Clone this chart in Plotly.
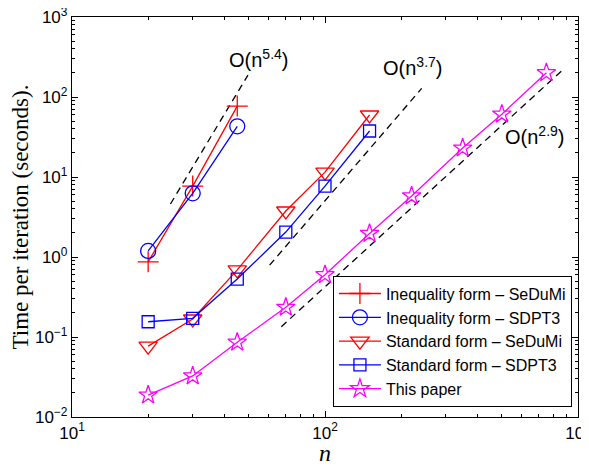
import math
import plotly.graph_objects as go

# ---- data ----
n_ineq = [20, 30, 45]
ineq_sedumi = [0.87, 7.7, 77]
ineq_sdpt3 = [1.19, 6.25, 43]

n_std = [20, 30, 45, 70, 100, 150]
std_sedumi = [0.077, 0.168, 0.69, 3.76, 11.5, 59.6]
std_sdpt3 = [0.155, 0.171, 0.53, 2.05, 7.7, 37.6]

n_paper = [20, 30, 45, 70, 100, 150, 220, 350, 500, 750]
paper = [0.0188, 0.0326, 0.086, 0.235, 0.6, 1.97, 5.8, 23, 61, 201]

# complexity guide lines (dashed): exponent, n range, time range
guide_exp = ["5.4", "3.7", "2.9"]
guide_n = [[24.5, 49.6], [60.4, 241], [67.2, 875]]
guide_t = [[4.6, 188], [0.79, 128], [0.1345, 222]]
guide_label_pos = [[54.7, 305], [221, 243], [673, 33]]

x_tickvals = [10, 100, 1000]
x_ticktext = ["10<sup>1</sup>", "10<sup>2</sup>", "10<sup>3</sup>"]
y_tickvals = [0.01, 0.1, 1, 10, 100, 1000]
y_ticktext = ["10<sup>−2</sup>", "10<sup>−1</sup>", "10<sup>0</sup>",
              "10<sup>1</sup>", "10<sup>2</sup>", "10<sup>3</sup>"]

RED = "#FF0000"
BLUE = "#0000FF"
MAG = "#FF00FF"
SANS = "Liberation Sans, Arial, sans-serif"
SERIF = "Liberation Serif, Times New Roman, serif"

fig = go.Figure()

for gn, gt in zip(guide_n, guide_t):
    fig.add_trace(go.Scatter(x=gn, y=gt, mode="lines", showlegend=False,
                             line=dict(color="black", width=1.3, dash="7px,5px"),
                             hoverinfo="skip"))

def add_series(x, y, name, color, symbol, size):
    fig.add_trace(go.Scatter(
        x=x, y=y, name=name, mode="lines+markers",
        line=dict(color=color, width=1.3),
        marker=dict(symbol=symbol, size=size, color=color,
                    line=dict(color=color, width=1.3)),
    ))

add_series(n_ineq, ineq_sedumi, "Inequality form – SeDuMi", RED, "cross-thin-open", 15)
add_series(n_ineq, ineq_sdpt3, "Inequality form – SDPT3", BLUE, "circle-open", 15)
add_series(n_std, std_sedumi, "Standard form – SeDuMi", RED, "triangle-down-open", 16)
add_series(n_std, std_sdpt3, "Standard form – SDPT3", BLUE, "square-open", 12)
add_series(n_paper, paper, "This paper", MAG, "star-open", 14)

for lab, (px, py) in zip(guide_exp, guide_label_pos):
    fig.add_annotation(x=math.log10(px), y=math.log10(py), xref="x", yref="y",
                       text="O(n<sup>%s</sup>)" % lab, showarrow=False,
                       xanchor="center", yanchor="middle",
                       font=dict(family=SANS, size=20, color="black"))

minor_x = [m * 10 ** d for d in (1, 2) for m in range(2, 10)]
minor_y = [m * 10 ** d for d in (-2, -1, 0, 1, 2) for m in range(2, 10)]

axis_common = dict(type="log", showline=True, linecolor="black", linewidth=1.3,
                   mirror="allticks", ticks="inside", ticklen=6, tickcolor="black",
                   showgrid=False, zeroline=False, automargin=False,
                   ticklabeloverflow="allow",
                   tickfont=dict(family=SANS, size=17, color="black"))

fig.update_xaxes(**axis_common, range=[1, 3], tickmode="array",
                 tickvals=x_tickvals, ticktext=x_ticktext,
                 minor=dict(tickmode="array", tickvals=minor_x, ticks="inside",
                            ticklen=3, tickcolor="black", showgrid=False),
                 title=dict(text="<i>n</i>", font=dict(family=SERIF, size=24, color="black"),
                            standoff=0))
fig.update_yaxes(**axis_common, range=[-2, 3], tickmode="array",
                 tickvals=y_tickvals, ticktext=y_ticktext,
                 minor=dict(tickmode="array", tickvals=minor_y, ticks="inside",
                            ticklen=3, tickcolor="black", showgrid=False),
                 title=dict(text="Time per iteration (seconds).",
                            font=dict(family=SERIF, size=23, color="black"),
                            standoff=2))

# page body has an 8px margin, so the figure is offset by 8px
fig.update_layout(
    width=581, height=458,
    margin=dict(l=64, r=11, t=9, b=49),
    paper_bgcolor="white", plot_bgcolor="white",
    legend=dict(x=0.988, y=0.026, xanchor="right", yanchor="bottom",
                bordercolor="black", borderwidth=1, bgcolor="white",
                font=dict(family=SANS, size=16, color="black"),
                itemwidth=42, tracegroupgap=0),
)

fig.write_html("out.html")
